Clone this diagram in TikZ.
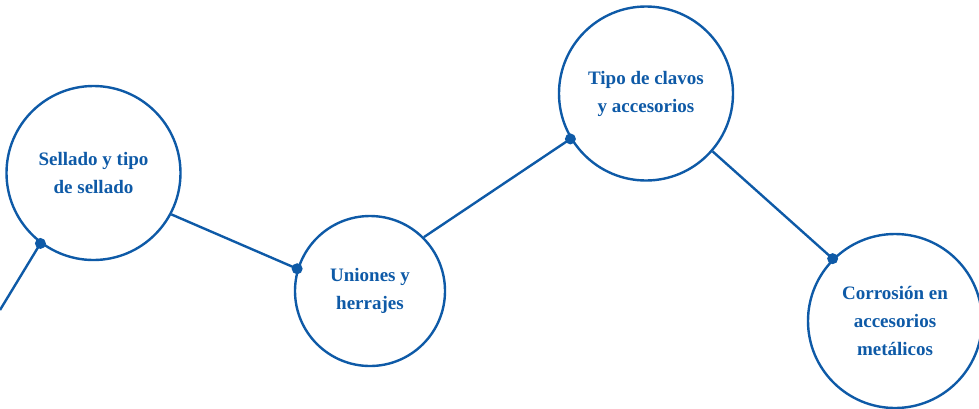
\documentclass[tikz,border=0pt]{standalone}
\usepackage{fontspec}
\setmainfont{Liberation Serif}
\usepackage{xcolor}
\usepackage{tikz}
\usetikzlibrary{positioning}

\definecolor{tema}{HTML}{0E5AA7}

\begin{document}
\begin{tikzpicture}[
    topic/.style={circle, draw=tema, line width=2.4pt, fill=white,
                  inner sep=0pt, minimum size=174pt, align=center,
                  text=tema, font=\fontsize{19}{28}\selectfont\bfseries},
    link/.style={draw=tema, line width=2.4pt},
    pin/.style={circle, fill=tema, inner sep=0pt, minimum size=11pt},
    x=1pt, y=-1pt
  ]
  \useasboundingbox (0,0) rectangle (979,408);

  % free end on the left border
  \coordinate (entry) at (0,310);

  % the four topics
  \node[topic] (sel) at (93.5,173) {Sellado y tipo\\de sellado};
  \node[topic, minimum size=150pt] (uni) at (370,291) {Uniones y\\herrajes};
  \node[topic] (cla) at (646,93.5) {Tipo de clavos\\y accesorios};
  \node[topic] (cor) at (895,321) {Corrosión en\\accesorios\\metálicos};

  % dots on the circles
  \node[pin] (p1) at (sel.233) {};
  \node[pin] (p2) at (uni.163) {};
  \node[pin] (p3) at (cla.211) {};
  \node[pin] (p4) at (cor.135) {};

  % connectors
  \draw[link] (entry) -- (p1.center);
  \draw[link] (sel.332) -- (p2.center);
  \draw[link] (uni.45) -- (p3.center);
  \draw[link] (cla.319) -- (p4.center);
\end{tikzpicture}
\end{document}
